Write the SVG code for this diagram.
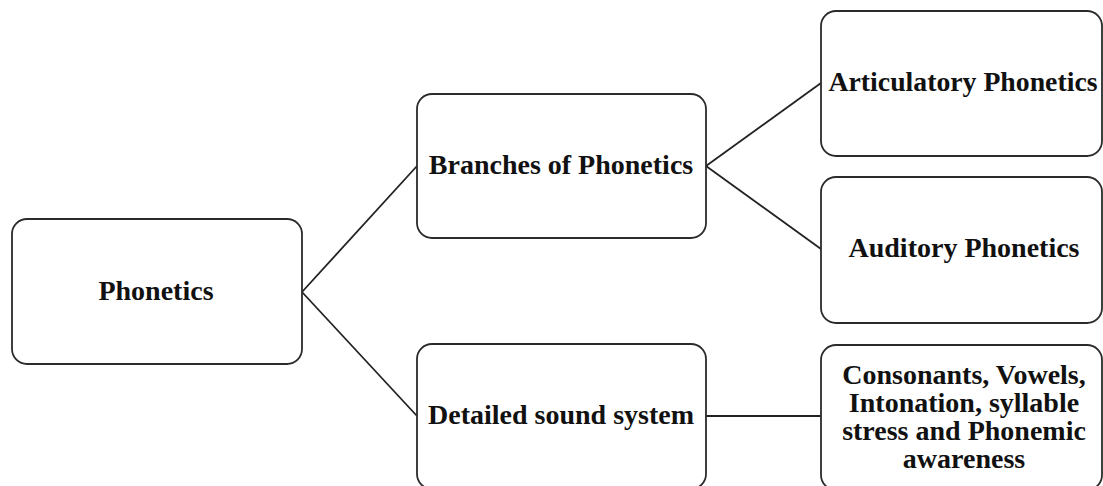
<svg xmlns="http://www.w3.org/2000/svg" width="1103" height="486" viewBox="0 0 1103 486">
<style>
.box{fill:#fff;stroke:#2b2b2b;stroke-width:1.8}
.lbl{font-family:"Liberation Serif","Times New Roman",serif;font-weight:bold;font-size:28px;fill:#111;text-anchor:middle}
.con{fill:none;stroke:#222;stroke-width:1.8}
</style>
<rect width="1103" height="486" fill="#fff"/>
<g id="connectors">
<line class="con" x1="302" y1="292" x2="417" y2="166"/>
<line class="con" x1="302" y1="292" x2="417" y2="416"/>
<line class="con" x1="706" y1="166" x2="821" y2="83"/>
<line class="con" x1="706" y1="166" x2="821" y2="249"/>
<line class="con" x1="706" y1="416" x2="821" y2="416"/>
</g>
<g id="phonetics">
<rect class="box" x="12" y="219" width="290" height="145" rx="15"/>
<text class="lbl" x="156" y="300">Phonetics</text>
</g>
<g id="branches">
<rect class="box" x="417" y="94" width="289" height="144" rx="15"/>
<text class="lbl" x="561" y="174">Branches of Phonetics</text>
</g>
<g id="detailed">
<rect class="box" x="417" y="344" width="289" height="145" rx="15"/>
<text class="lbl" x="561" y="424">Detailed sound system</text>
</g>
<g id="articulatory">
<rect class="box" x="821" y="11" width="281" height="145" rx="15"/>
<text class="lbl" x="963" y="91" textLength="269" lengthAdjust="spacingAndGlyphs">Articulatory Phonetics</text>
</g>
<g id="auditory">
<rect class="box" x="821" y="177" width="281" height="146" rx="15"/>
<text class="lbl" x="964" y="257">Auditory Phonetics</text>
</g>
<g id="sound-items">
<rect class="box" x="821" y="345" width="281" height="145" rx="15"/>
<text class="lbl" x="964" y="384">Consonants, Vowels,</text>
<text class="lbl" x="964" y="412">Intonation, syllable</text>
<text class="lbl" x="964" y="440">stress and Phonemic</text>
<text class="lbl" x="964" y="468">awareness</text>
</g>
</svg>
